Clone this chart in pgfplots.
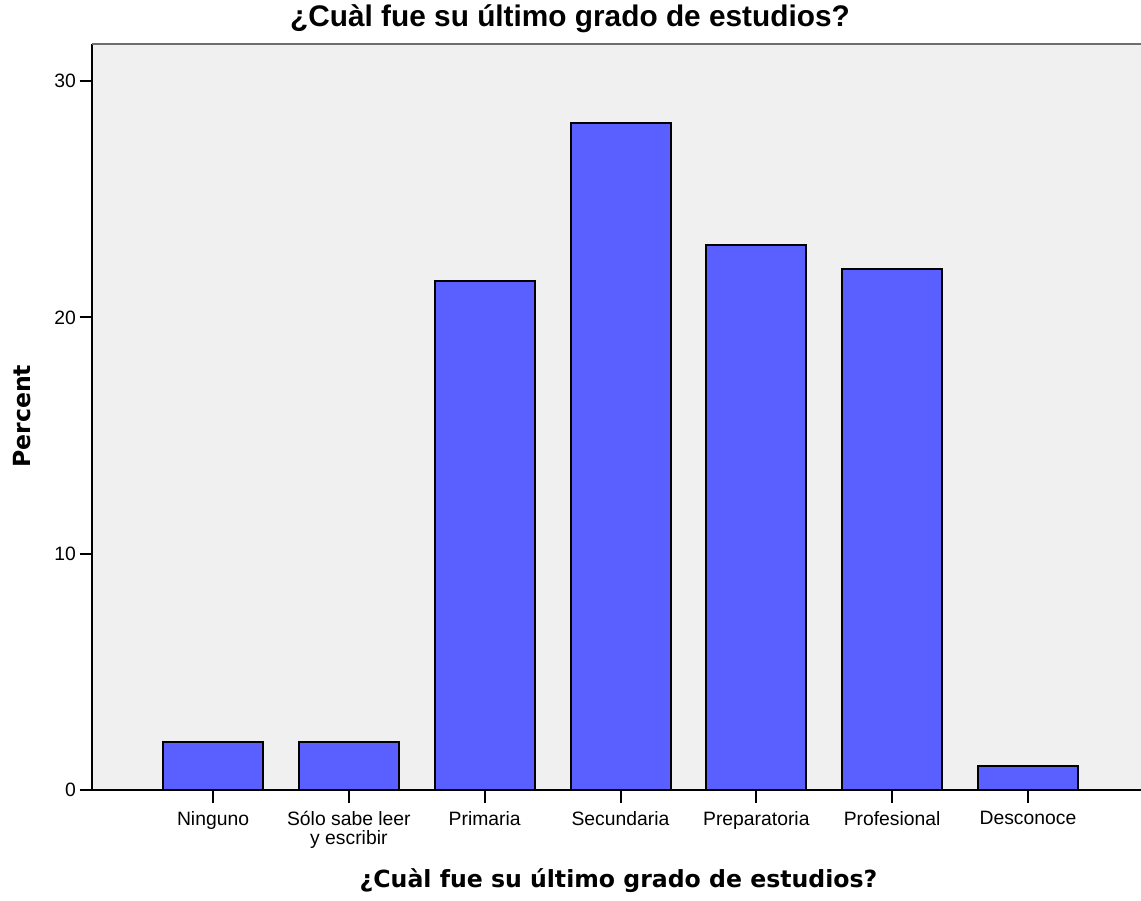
\documentclass[border=0pt]{standalone}
\usepackage{fontspec}
\setmainfont{Liberation Sans}
\newfontfamily\dvsans{DejaVu Sans}
\usepackage{pgfplots}
\pgfplotsset{compat=1.18}
\definecolor{barblue}{RGB}{90,95,255}
\definecolor{plotbg}{RGB}{240,240,240}
\definecolor{topline}{RGB}{110,110,110}
\begin{document}
\begin{tikzpicture}
\begin{axis}[
  scale only axis, width=786.5pt, height=559.5pt,
  xmin=-0.889, xmax=6.832, ymin=0, ymax=31.57,
  enlargelimits=false, clip=false,
  axis lines=left, axis line style={-, line width=1.5pt, black},
  axis background/.style={fill=plotbg},
  ybar, bar width=75pt,
  xtick={0,1,2,3,4,5,6},
  xticklabels={Ninguno, {Sólo sabe leer\\y escribir}, Primaria, Secundaria, Preparatoria, Profesional, Desconoce},
  ytick={0,10,20,30},
  tick align=outside, major tick length=9.5pt,
  tick style={black, line width=1.5pt},
  /pgf/number format/assume math mode=true,
  xticklabel style={font=\fontsize{14.5}{13.7}\selectfont, align=center, anchor=north, inner sep=0pt, yshift=-6.5pt},
  yticklabel style={font=\fontsize{14.5}{16}\selectfont, anchor=east, inner sep=0pt, xshift=-2.7pt},
  title={¿Cuàl fue su último grado de estudios?},
  title style={at={(rel axis cs:0.4555,1.0121)}, anchor=base, inner sep=0pt, font=\fontsize{22.35}{26}\selectfont\bfseries},
  xlabel={¿Cuàl fue su último grado de estudios?},
  xlabel style={at={(rel axis cs:0.5018,-0.131)}, anchor=base, inner sep=0pt, font=\dvsans\bfseries\fontsize{17.7}{20}\selectfont},
  ylabel={Percent},
  ylabel style={at={(rel axis cs:-0.0666,0.501)}, anchor=center, inner sep=0pt, font=\dvsans\bfseries\fontsize{17.7}{20}\selectfont},
]
\addplot[fill=barblue, draw=black, line width=1.5pt] coordinates {
  (0,2.05) (1,2.05) (2,21.54) (3,28.21) (4,23.08) (5,22.05) (6,1.03)
};
\draw[topline, line width=1.5pt] (rel axis cs:0,1) -- (rel axis cs:1,1);
\coordinate (SW) at (rel axis cs:0,0);
\end{axis}
\pgfresetboundingbox
\path[use as bounding box] (SW) ++(-69.225pt,-82.5pt) rectangle ++(855.75pt,675pt);
\end{tikzpicture}
\end{document}
